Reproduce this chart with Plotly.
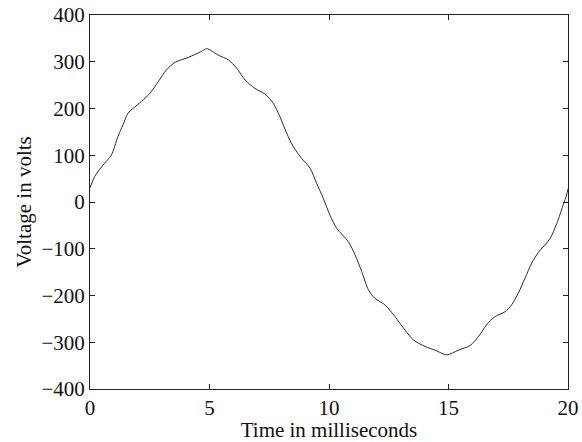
import plotly.graph_objects as go

time_ms = [0.0, 0.2, 0.61, 0.89, 1.17, 1.38, 1.59, 1.80, 2.15, 2.50, 2.85, 3.19, 3.57,
           4.10, 4.66, 4.88, 5.37, 5.79, 6.14, 6.49, 6.90, 7.32, 7.67, 7.95, 8.23, 8.51,
           8.86, 9.21, 9.48, 9.76, 10.04, 10.32, 10.81, 11.09, 11.37, 11.65, 11.92,
           12.34, 12.76, 13.18, 13.53, 14.02, 14.44, 14.78, 14.95, 15.41, 15.90, 16.25,
           16.59, 16.95, 17.36, 17.64, 17.92, 18.20, 18.48, 18.76, 19.25, 19.53, 19.80,
           19.94, 20.0]
voltage = [30, 55, 83, 100, 140, 165, 190, 200, 215, 232, 257, 282, 299,
           309, 322, 328, 314, 304, 286, 261, 243, 231, 211, 182, 147, 118,
           93, 72, 40, 8, -28, -56, -85, -113, -149, -188, -206,
           -220, -245, -274, -295, -309, -317, -325, -327, -317, -307, -288,
           -263, -245, -235, -220, -195, -163, -131, -108, -78, -46, -6,
           15, 28]

x_ticks = [0, 5, 10, 15, 20]
y_ticks = [-400, -300, -200, -100, 0, 100, 200, 300, 400]

fig = go.Figure()
fig.add_trace(go.Scatter(x=time_ms, y=voltage, mode="lines",
                         line=dict(color="#2a2a2a", width=1, shape="spline", smoothing=0.8),
                         showlegend=False))

font = dict(family="Liberation Serif, Times New Roman, serif", size=21, color="#111111")
axis_common = dict(showgrid=False, zeroline=False, showline=True, linecolor="#222222",
                   linewidth=1, mirror="ticks", ticks="inside", ticklen=5,
                   tickcolor="#222222", tickwidth=1, tickfont=font, automargin=False,
                   ticklabeloverflow="allow")

fig.update_layout(
    width=582, height=442,
    margin=dict(l=90, r=14, t=15, b=53),
    paper_bgcolor="white", plot_bgcolor="white",
    font=font,
    xaxis=dict(range=[0, 20], tickvals=x_ticks,
               title=dict(text="Time in milliseconds", font=font, standoff=2),
               **axis_common),
    yaxis=dict(range=[-400, 400], tickvals=y_ticks,
               title=dict(text="Voltage in volts", font=font, standoff=4),
               **axis_common),
)

fig.write_html("out.html",
               config={"displayModeBar": False, "staticPlot": True},
               post_script="document.body.style.margin='0';document.body.style.overflow='hidden';")
